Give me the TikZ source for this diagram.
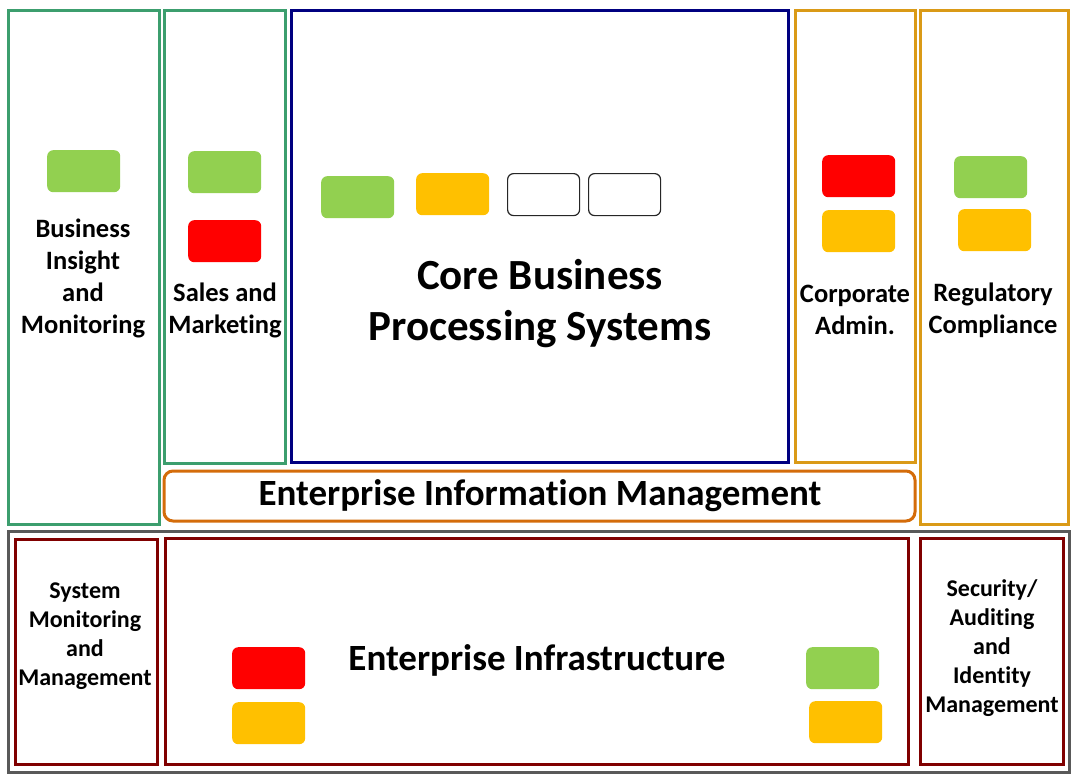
\documentclass[tikz,border=0pt]{standalone}
\usepackage{fontspec}
\setmainfont[Ligatures={NoCommon}]{Carlito}
\begin{document}
\begin{tikzpicture}[x=1pt,y=-1pt,
  pane/.style={draw=#1,line width=3pt},
  lamp/.style={fill=#1,draw=none,rounded corners=6pt,minimum width=73pt,minimum height=42pt,inner sep=0pt,anchor=north west},
  blank/.style={draw=black!85,line width=1.2pt,fill=white,rounded corners=6pt,minimum width=72pt,minimum height=42pt,inner sep=0pt,anchor=north west},
  lbl/.style={font=\bfseries\fontsize{26.5}{32}\selectfont,align=center,inner sep=0pt},
  slbl/.style={font=\bfseries\fontsize{24}{29}\selectfont,align=center,inner sep=0pt},
  big/.style={font=\bfseries\fontsize{43}{51}\selectfont,align=center,inner sep=0pt},
  mid/.style={font=\bfseries\fontsize{37}{40}\selectfont,align=center,inner sep=0pt}]
\definecolor{pgreen}{RGB}{60,158,110}
\definecolor{pnavy}{RGB}{0,0,128}
\definecolor{pgold}{RGB}{218,154,23}
\definecolor{porange}{RGB}{212,108,10}
\definecolor{pred}{RGB}{128,0,0}
\definecolor{pgray}{RGB}{89,89,89}
\definecolor{lgreen}{RGB}{146,208,80}
\definecolor{lorange}{RGB}{255,192,0}
\definecolor{lred}{RGB}{255,0,0}
\useasboundingbox[fill=white] (0,0) rectangle (1078,776);
% top panes
\draw[pane=pgreen] (8,11) rectangle (159,524);
\draw[pane=pgreen] (164,11) rectangle (285,463);
\draw[pane=pnavy] (291,11) rectangle (788,462);
\draw[pane=pgold] (795,11) rectangle (915,462);
\draw[pane=pgold] (920,11) rectangle (1068,524);
\draw[draw=porange,line width=3pt,rounded corners=9pt] (164,471) rectangle (915,521);
% bottom
\draw[pane=pgray] (8,531) rectangle (1069,772);
\draw[pane=pred] (15,539) rectangle (157,764);
\draw[pane=pred] (165,538) rectangle (908,764);
\draw[pane=pred] (920,538) rectangle (1063,764);
% lamps
\node[lamp=lgreen] (bi1) at (47,150) {};
\node[lamp=lgreen] (sm1) at (188,151) {};
\node[lamp=lred] (sm2) at (188,220) {};
\node[lamp=lgreen] (cb1) at (321,176) {};
\node[lamp=lorange] (cb2) at (416,173) {};
\node[blank] (cb3) at (507,173) {};
\node[blank] (cb4) at (588,173) {};
\node[lamp=lred] (ca1) at (822,155) {};
\node[lamp=lorange] (ca2) at (822,210) {};
\node[lamp=lgreen] (rc1) at (954,156) {};
\node[lamp=lorange] (rc2) at (958,209) {};
\node[lamp=lred] (ei1) at (232,647) {};
\node[lamp=lorange] (ei2) at (232,702) {};
\node[lamp=lgreen] (ei3) at (806,647) {};
\node[lamp=lorange] (ei4) at (809,701) {};
% labels
\node[lbl] (tbi) at (83,278) {Business\\Insight\\and\\Monitoring};
\node[lbl] (tsm) at (225,310) {Sales and\\Marketing};
\node[big] (tcb) at (540,304) {Core Business\\Processing Systems};
\node[lbl] (tca) at (855,310) {Corporate\\Admin.};
\node[lbl] (trc) at (993,310) {Regulatory\\Compliance};
\node[mid] (tei) at (540,496) {Enterprise Information Management};
\node[slbl] (tsy) at (85,636) {System\\Monitoring\\and\\Management};
\node[mid] (tin) at (537,660) {Enterprise Infrastructure};
\node[slbl] (tse) at (992,648) {Security/\\Auditing\\and\\Identity\\Management};
\end{tikzpicture}
\end{document}
